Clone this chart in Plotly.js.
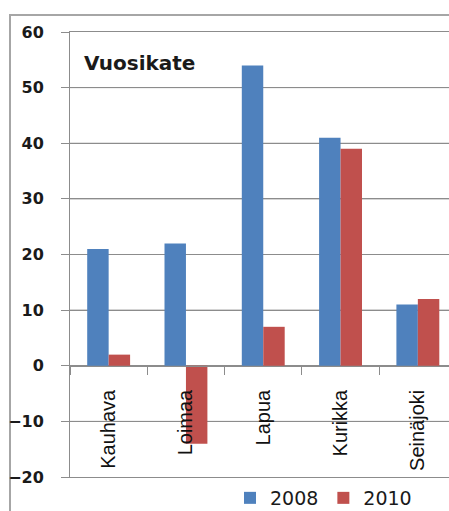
<!DOCTYPE html>
<html>
<head>
<meta charset="utf-8">
<script src="https://cdn.plot.ly/plotly-3.0.1.min.js"></script>
<style>
  html, body { margin: 0; padding: 0; background: #fff; }
  #chart { width: 449px; height: 511px; }
</style>
</head>
<body>
<div id="chart"></div>
<script>
// Vuosikate by municipality, 2008 vs 2010
const municipalities = ["Kauhava", "Loimaa", "Lapua", "Kurikka", "Seinäjoki"];
const values2008 = [21, 22, 54, 41, 11];
const values2010 = [2, -14, 7, 39, 12];
const yTicks = [-20, -10, 0, 10, 20, 30, 40, 50, 60];

const W = 449, H = 511;
const M = { l: 70, r: 0, t: 32, b: 34, autoexpand: false };
const plotW = W - M.l - M.r;
const plotH = H - M.t - M.b;
const catWidthPx = 77.3;
const px2x = px => (px - M.l) / plotW;
const py2y = py => (H - M.b - py) / plotH;

const yMin = yTicks[0], yMax = yTicks[yTicks.length - 1];
const xRange = [-0.5, -0.5 + plotW / catWidthPx];
const axisGrey = "#8c8c8c";

const traces = [
  {
    type: "bar", name: "2008", x: municipalities, y: values2008,
    marker: { color: "#4F81BD" }, hoverinfo: "x+y"
  },
  {
    type: "bar", name: "2010", x: municipalities, y: values2010,
    marker: { color: "#C0504D" }, hoverinfo: "x+y"
  },
  // carries the category axis that sits on the zero line
  {
    type: "scatter", mode: "none", x: municipalities, y: municipalities.map(() => 0),
    xaxis: "x2", yaxis: "y", showlegend: false, hoverinfo: "skip"
  }
];

// horizontal grid at each interior y tick, in the main subplot behind the bars
const gridShapes = yTicks
  .filter(v => v > yMin && v < yMax)
  .map(v => ({
    type: "line", xref: "x", yref: "y",
    x0: xRange[0], x1: xRange[1], y0: v, y1: v,
    line: { color: axisGrey, width: 1 },
    layer: "below"
  }));

// light frame around the whole chart
const frameShape = {
  type: "rect", xref: "paper", yref: "paper",
  x0: px2x(10), x1: px2x(470), y0: py2y(530), y1: py2y(15),
  line: { color: "#a6a6a6", width: 2 }, fillcolor: "rgba(0,0,0,0)",
  layer: "below"
};

const layout = {
  width: W, height: H,
  margin: M,
  paper_bgcolor: "#fff",
  plot_bgcolor: "rgba(0,0,0,0)",
  barmode: "group",
  bargap: 0.445,
  bargroupgap: 0,
  showlegend: true,
  title: {
    text: "Vuosikate",
    font: { family: "DejaVu Sans", size: 20, weight: "bold", color: "#1a1a1a" },
    xref: "paper", yref: "paper",
    x: px2x(84), xanchor: "left",
    y: py2y(63), yanchor: "middle"
  },
  // base category axis: only its frame lines (top at 60, bottom at -20)
  xaxis: {
    type: "category",
    categoryarray: municipalities,
    range: xRange,
    showline: true, mirror: true, linecolor: axisGrey, linewidth: 1,
    ticks: "", showticklabels: false,
    showgrid: false, zeroline: false, fixedrange: true
  },
  xaxis2: {
    type: "category",
    categoryarray: municipalities,
    range: xRange,
    overlaying: "x",
    anchor: "free",
    position: (0 - yMin) / (yMax - yMin),
    side: "bottom",
    showline: true, linecolor: axisGrey, linewidth: 1,
    ticks: "outside", tickson: "boundaries", ticklen: 8, tickcolor: axisGrey,
    tickangle: -90,
    ticklabelstandoff: 15,
    tickfont: { family: "Liberation Sans", size: 20, color: "#111" },
    showgrid: false, zeroline: false, fixedrange: true
  },
  yaxis: {
    range: [yMin, yMax],
    tickmode: "linear",
    tick0: yTicks[0],
    dtick: yTicks[1] - yTicks[0],
    showline: true, linecolor: axisGrey, linewidth: 1,
    ticks: "outside", ticklen: 8, tickcolor: axisGrey,
    ticklabelstandoff: 14,
    tickfont: { family: "DejaVu Sans", size: 16, weight: "bold", color: "#1a1a1a" },
    showgrid: true, gridcolor: axisGrey, gridwidth: 1,
    zeroline: false, fixedrange: true
  },
  legend: {
    orientation: "h",
    x: px2x(230), xanchor: "left",
    y: py2y(479), yanchor: "top",
    font: { family: "DejaVu Sans", size: 19, color: "#1a1a1a" },
    bgcolor: "rgba(0,0,0,0)",
    itemclick: false, itemdoubleclick: false
  },
  shapes: [frameShape, ...gridShapes]
};

Plotly.newPlot("chart", traces, layout, { displayModeBar: false, staticPlot: true });
</script>
</body>
</html>
